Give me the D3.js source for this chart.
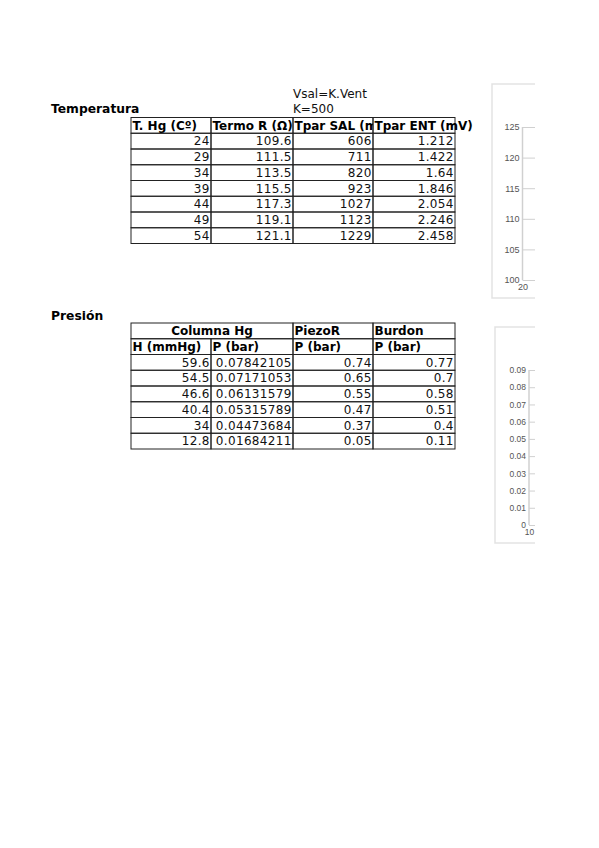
<!DOCTYPE html>
<html>
<head>
<meta charset="utf-8">
<script src="https://cdn.jsdelivr.net/npm/d3@7"></script>
<style>
  body { margin: 0; background: #fff; }
  svg { display: block; font-family: "DejaVu Sans", sans-serif; }
  .cell { fill: none; stroke: #222; stroke-width: 1; }
  .num { font-size: 12px; text-anchor: end; fill: #111; letter-spacing: 0.35px; }
  .head { font-size: 12px; font-weight: bold; fill: #000; }
  .title { font-size: 12.3px; font-weight: bold; fill: #000; }
  .note { font-size: 12px; fill: #111; }
  .frame { fill: #fff; stroke: #e3e3e3; stroke-width: 1.5; }
  .axis path, .axis line { stroke: #d0d0d0; }
  .axis text { fill: #555; }
</style>
</head>
<body>
<div class="chart"></div>
<script>
var width = 599, height = 848;

// Temperatura
var tempHeaders = ["T. Hg (Cº)", "Termo R (Ω)", "Tpar SAL (mV)", "Tpar ENT (mV)"];
var tempHg = ["24", "29", "34", "39", "44", "49", "54"];
var termoR = ["109.6", "111.5", "113.5", "115.5", "117.3", "119.1", "121.1"];
var tparSal = ["606", "711", "820", "923", "1027", "1123", "1229"];
var tparEnt = ["1.212", "1.422", "1.64", "1.846", "2.054", "2.246", "2.458"];

// Presión
var presGroups = ["Columna Hg", "PiezoR", "Burdon"];
var presHeaders = ["H (mmHg)", "P (bar)", "P (bar)", "P (bar)"];
var presH = ["59.6", "54.5", "46.6", "40.4", "34", "12.8"];
var presP = ["0.07842105", "0.07171053", "0.06131579", "0.05315789", "0.04473684", "0.01684211"];
var piezoR = ["0.74", "0.65", "0.55", "0.47", "0.37", "0.05"];
var burdon = ["0.77", "0.7", "0.58", "0.51", "0.4", "0.11"];

// chart axis ticks (charts are cut by the page edge)
var tempTicks = [100, 105, 110, 115, 120, 125];
var presTicks = [0, 0.01, 0.02, 0.03, 0.04, 0.05, 0.06, 0.07, 0.08, 0.09];

var colEdges = [131, 211, 293, 373, 455];
var rowH = 15.75;

var svg = d3.select(".chart")
  .append("svg")
  .attr("width", width)
  .attr("height", height);

var defs = svg.append("defs");
for (var c = 0; c < 4; c++) {
  defs.append("clipPath").attr("id", "col" + c)
    .append("rect")
    .attr("x", colEdges[c]).attr("y", 0)
    .attr("width", c == 3 ? 200 : colEdges[c + 1] - colEdges[c])
    .attr("height", height);
}
defs.append("clipPath").attr("id", "page")
  .append("rect").attr("x", 0).attr("y", 0).attr("width", 535).attr("height", height);

// ---- labels
svg.append("text").attr("class", "title").attr("x", 51).attr("y", 113).text("Temperatura");
svg.append("text").attr("class", "note").attr("x", 293).attr("y", 98).text("Vsal=K.Vent");
svg.append("text").attr("class", "note").attr("x", 293).attr("y", 113).text("K=500");
svg.append("text").attr("class", "title").attr("x", 51).attr("y", 320).text("Presión");

function drawCells(g, top, rows, cols) {
  var y = d3.scaleLinear().domain([0, 1]).range([top, top + rowH]);
  for (var r = 0; r < rows.length; r++) {
    for (var c = 0; c < cols; c++) {
      g.append("rect").attr("class", "cell")
        .attr("x", colEdges[c]).attr("y", y(r))
        .attr("width", colEdges[c + 1] - colEdges[c]).attr("height", rowH);
      g.append("text").attr("class", "num")
        .attr("x", colEdges[c + 1] - 1.2).attr("y", y(r) + 12)
        .text(rows[r][c]);
    }
  }
}

// ---- Temperatura table
var t1 = svg.append("g");
var t1Top = 117.5;
tempHeaders.forEach(function(h, c) {
  t1.append("rect").attr("class", "cell")
    .attr("x", colEdges[c]).attr("y", t1Top)
    .attr("width", colEdges[c + 1] - colEdges[c]).attr("height", rowH);
  var t = t1.append("text").attr("class", "head")
    .attr("clip-path", "url(#col" + c + ")")
    .attr("x", colEdges[c] + 1.5).attr("y", t1Top + 12)
    .text(h);
  // spreadsheet style: text cut where the next cell is filled
  if (c < 3) {
    var node = t.node(), room = colEdges[c + 1] - colEdges[c] - 1.5, n = h.length;
    if (node.getComputedTextLength() > room) {
      n = 0;
      while (n < h.length && node.getStartPositionOfChar(n).x < colEdges[c + 1] - 2) n++;
      t.text(h.slice(0, n));
    }
  }
});
var tempRows = d3.range(tempHg.length).map(function(i) {
  return [tempHg[i], termoR[i], tparSal[i], tparEnt[i]];
});
drawCells(t1, t1Top + rowH, tempRows, 4);

// ---- Presión table
var t2 = svg.append("g");
var t2Top = 323;
var groupSpans = [[0, 2], [2, 3], [3, 4]];
presGroups.forEach(function(h, i) {
  var a = colEdges[groupSpans[i][0]], b = colEdges[groupSpans[i][1]];
  t2.append("rect").attr("class", "cell")
    .attr("x", a).attr("y", t2Top).attr("width", b - a).attr("height", rowH);
  t2.append("text").attr("class", "head")
    .attr("x", i == 0 ? (a + b) / 2 : a + 1.5).attr("y", t2Top + 12)
    .attr("text-anchor", i == 0 ? "middle" : "start")
    .text(h);
});
presHeaders.forEach(function(h, c) {
  t2.append("rect").attr("class", "cell")
    .attr("x", colEdges[c]).attr("y", t2Top + rowH)
    .attr("width", colEdges[c + 1] - colEdges[c]).attr("height", rowH);
  t2.append("text").attr("class", "head")
    .attr("x", colEdges[c] + 1.5).attr("y", t2Top + rowH + 12)
    .text(h);
});
var presRows = d3.range(presH.length).map(function(i) {
  return [presH[i], presP[i], piezoR[i], burdon[i]];
});
drawCells(t2, t2Top + 2 * rowH, presRows, 4);

// ---- charts (clipped at the page edge)
var charts = svg.append("g").attr("clip-path", "url(#page)");

function drawChart(box, axisX, yTop, yBot, yDomain, ticks, fmt, fontSize, xTick) {
  charts.append("rect").attr("class", "frame")
    .attr("x", box[0]).attr("y", box[1])
    .attr("width", 200).attr("height", box[2] - box[1]);
  var y = d3.scaleLinear().domain(yDomain).range([yBot, yTop]);
  var x = d3.scaleLinear().domain([xTick, xTick + 50]).range([axisX, axisX + 300]);
  var ga = charts.append("g").attr("class", "axis")
    .attr("transform", "translate(" + axisX + ",0)")
    .call(d3.axisRight(y).tickValues(ticks).tickSize(40).tickFormat(fmt));
  ga.select(".domain").remove();
  ga.selectAll("text").attr("x", -3).attr("text-anchor", "end")
    .style("font-size", fontSize + "px");
  charts.append("line").attr("x1", axisX).attr("x2", axisX)
    .attr("y1", yTop).attr("y2", yBot).attr("stroke", "#d0d0d0").attr("stroke-width", 1.5);
  var gx = charts.append("g").attr("class", "axis")
    .attr("transform", "translate(0," + yBot + ")")
    .call(d3.axisBottom(x).tickValues([xTick]).tickSize(0).tickPadding(4));
  gx.select(".domain").remove();
  gx.selectAll("text").style("font-size", fontSize + "px");
}

drawChart([492, 84, 298], 522.5, 127, 280, [100, 125], tempTicks, d3.format("d"), 9, 20);
drawChart([495, 327, 543], 529, 370, 525, [0, 0.09], presTicks, d3.format(".2~f"), 8.5, 10);
</script>
</body>
</html>
